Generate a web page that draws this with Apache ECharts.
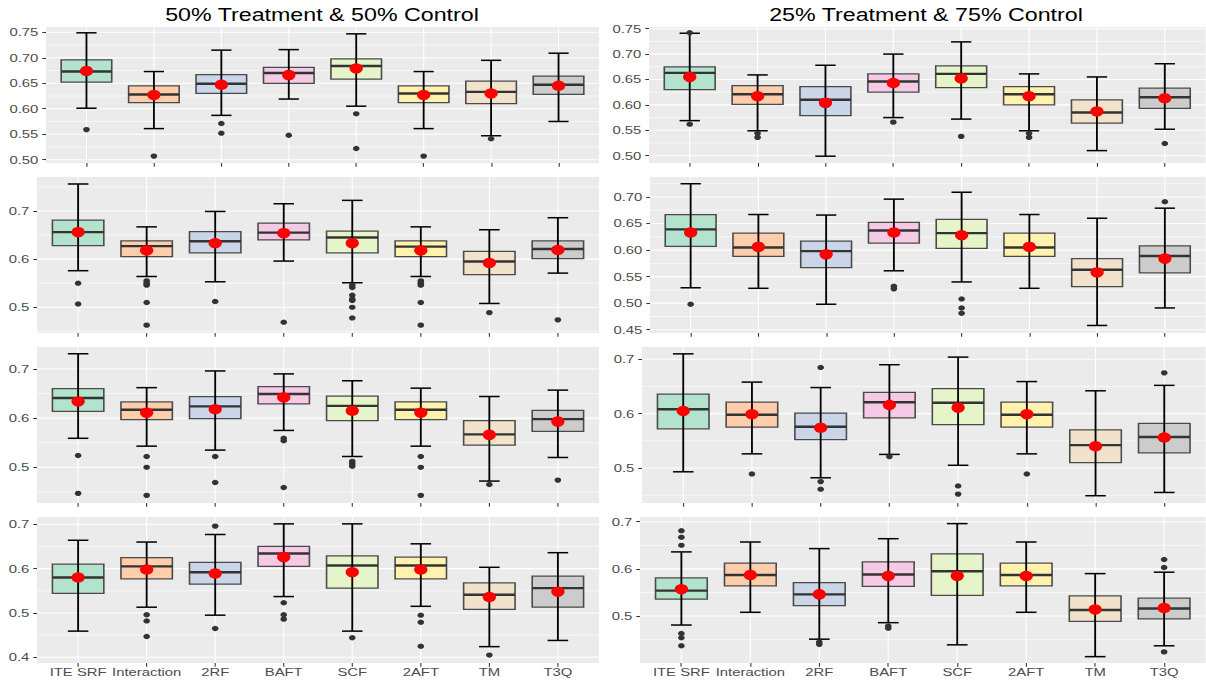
<!DOCTYPE html>
<html><head><meta charset="utf-8">
<script src="https://cdn.jsdelivr.net/npm/echarts@6/dist/echarts.min.js"></script>
<style>
html,body{margin:0;padding:0;background:#fff;overflow:hidden;}
#wrap{width:1206px;height:683px;overflow:hidden;}
#chart{width:950px;height:683px;transform:scaleX(1.269474);transform-origin:0 0;}
</style></head><body><div id="wrap"><div id="chart"></div></div>
<script>
// ---------------- data ----------------
const categories = ['ITE SRF','Interaction','2RF','BAFT','SCF','2AFT','TM','T3Q'];
const titles = ['50% Treatment & 50% Control','25% Treatment & 75% Control'];

// each box: [lower whisker, Q1, median, Q3, upper whisker]
const p1_stats = [[0.601,0.652,0.673,0.696,0.749],[0.561,0.612,0.628,0.645,0.673],[0.587,0.630,0.649,0.667,0.715],[0.619,0.650,0.670,0.681,0.716],[0.605,0.658,0.684,0.698,0.747],[0.561,0.612,0.630,0.645,0.673],[0.547,0.610,0.633,0.654,0.695],[0.575,0.628,0.647,0.664,0.709]];
const p1_means = [0.674,0.627,0.647,0.666,0.679,0.627,0.630,0.645];
const p1_outliers = [[0,0.559],[1,0.507],[2,0.571],[2,0.552],[3,0.548],[4,0.590],[4,0.522],[5,0.507],[6,0.541]];

const p2_stats = [[0.569,0.630,0.663,0.675,0.741],[0.549,0.601,0.621,0.638,0.659],[0.499,0.579,0.610,0.636,0.678],[0.575,0.625,0.646,0.661,0.700],[0.572,0.634,0.661,0.677,0.724],[0.549,0.600,0.621,0.636,0.661],[0.510,0.564,0.585,0.610,0.655],[0.552,0.593,0.615,0.633,0.681]];
const p2_means = [0.655,0.617,0.604,0.643,0.652,0.617,0.587,0.613];
const p2_outliers = [[0,0.742],[0,0.562],[1,0.544],[1,0.536],[3,0.566],[4,0.538],[5,0.544],[5,0.536],[7,0.524]];

const p3_stats = [[0.576,0.628,0.656,0.681,0.756],[0.564,0.605,0.627,0.638,0.667],[0.553,0.613,0.637,0.657,0.699],[0.596,0.640,0.655,0.675,0.715],[0.551,0.613,0.645,0.658,0.722],[0.564,0.605,0.626,0.638,0.667],[0.508,0.568,0.595,0.616,0.661],[0.571,0.601,0.621,0.638,0.686]];
const p3_means = [0.656,0.618,0.633,0.654,0.633,0.618,0.592,0.619];
const p3_outliers = [[0,0.550],[0,0.507],[1,0.555],[1,0.550],[1,0.546],[1,0.510],[1,0.463],[2,0.512],[3,0.469],[4,0.546],[4,0.541],[4,0.525],[4,0.517],[4,0.514],[4,0.500],[4,0.478],[5,0.555],[5,0.550],[5,0.546],[5,0.510],[5,0.463],[6,0.489],[7,0.474]];

const p4_stats = [[0.529,0.607,0.639,0.667,0.725],[0.528,0.588,0.605,0.632,0.667],[0.498,0.567,0.598,0.617,0.666],[0.561,0.613,0.637,0.652,0.696],[0.540,0.603,0.632,0.658,0.709],[0.528,0.588,0.605,0.632,0.667],[0.458,0.531,0.563,0.584,0.660],[0.491,0.557,0.589,0.608,0.679]];
const p4_means = [0.633,0.606,0.592,0.633,0.628,0.606,0.558,0.584];
const p4_outliers = [[0,0.498],[3,0.532],[3,0.527],[4,0.508],[4,0.491],[4,0.481],[7,0.691]];

const p5_stats = [[0.559,0.614,0.641,0.660,0.731],[0.543,0.597,0.617,0.633,0.662],[0.535,0.599,0.624,0.644,0.696],[0.575,0.629,0.649,0.664,0.690],[0.522,0.595,0.625,0.645,0.676],[0.543,0.597,0.617,0.633,0.661],[0.472,0.545,0.567,0.595,0.644],[0.520,0.573,0.598,0.616,0.657]];
const p5_means = [0.634,0.611,0.618,0.642,0.615,0.611,0.566,0.593];
const p5_outliers = [[0,0.524],[0,0.447],[1,0.522],[1,0.500],[1,0.443],[2,0.522],[2,0.469],[3,0.559],[3,0.554],[3,0.459],[4,0.512],[4,0.507],[4,0.502],[5,0.522],[5,0.500],[5,0.443],[6,0.465],[7,0.474]];

const p6_stats = [[0.493,0.572,0.608,0.636,0.710],[0.526,0.575,0.598,0.621,0.658],[0.482,0.552,0.576,0.601,0.648],[0.525,0.592,0.621,0.639,0.690],[0.505,0.580,0.620,0.646,0.704],[0.526,0.575,0.598,0.621,0.659],[0.449,0.510,0.542,0.570,0.642],[0.455,0.528,0.557,0.582,0.652]];
const p6_means = [0.605,0.599,0.574,0.616,0.611,0.599,0.540,0.556];
const p6_outliers = [[1,0.489],[2,0.685],[2,0.475],[2,0.461],[3,0.521],[4,0.467],[4,0.452],[5,0.489],[7,0.675]];

const p7_stats = [[0.459,0.544,0.580,0.610,0.664],[0.513,0.577,0.605,0.625,0.660],[0.495,0.565,0.592,0.614,0.677],[0.537,0.605,0.634,0.650,0.701],[0.459,0.556,0.607,0.629,0.701],[0.515,0.577,0.607,0.626,0.656],[0.424,0.508,0.541,0.568,0.603],[0.438,0.513,0.556,0.583,0.636]];
const p7_means = [0.580,0.598,0.589,0.626,0.592,0.598,0.536,0.548];
const p7_outliers = [[1,0.496],[1,0.482],[1,0.447],[2,0.696],[2,0.465],[3,0.523],[3,0.496],[3,0.486],[4,0.444],[5,0.495],[5,0.479],[5,0.425],[6,0.405]];

const p8_stats = [[0.481,0.536,0.554,0.581,0.636],[0.508,0.564,0.587,0.612,0.657],[0.451,0.522,0.546,0.571,0.643],[0.486,0.563,0.588,0.615,0.664],[0.439,0.544,0.595,0.632,0.696],[0.508,0.564,0.587,0.612,0.657],[0.414,0.489,0.513,0.543,0.590],[0.437,0.494,0.516,0.538,0.593]];
const p8_means = [0.557,0.587,0.546,0.585,0.585,0.585,0.514,0.517];
const p8_outliers = [[0,0.681],[0,0.667],[0,0.650],[0,0.463],[0,0.454],[0,0.437],[2,0.445],[2,0.440],[3,0.479],[3,0.474],[7,0.620],[7,0.603],[7,0.424]];

// y tick labels per panel
const p1_yticks = [0.50,0.55,0.60,0.65,0.70,0.75];
const p2_yticks = [0.50,0.55,0.60,0.65,0.70,0.75];
const p3_yticks = [0.5,0.6,0.7];
const p4_yticks = [0.45,0.50,0.55,0.60,0.65,0.70];
const p5_yticks = [0.5,0.6,0.7];
const p6_yticks = [0.5,0.6,0.7];
const p7_yticks = [0.4,0.5,0.6,0.7];
const p8_yticks = [0.5,0.6,0.7];
// visible y range of each panel
const yRanges = [[0.4935,0.7604],[0.4856,0.7533],[0.4467,0.7705],[0.4438,0.7377],[0.4274,0.7447],[0.4356,0.7226],[0.3871,0.7165],[0.4005,0.7100]];

// ---------------- styling / layout ----------------
const palette = ['#B3E2CD','#FDCDAC','#CBD5E8','#F4CAE4','#E6F5C9','#FFF2AE','#F1E2CC','#CCCCCC'];
const S = 1206/950;
const FONT = '"Liberation Sans", Arial, Helvetica, sans-serif';
const rowTop = [27,177,347,517], rowH = [136,156,156,146];
const panelLeft = [46,649,37,650,37,642,37,640];   // original-pixel coordinates
const panelRight = [599,1205.5];

const panels = [
  {stats:p1_stats, means:p1_means, out:p1_outliers, ticks:p1_yticks},
  {stats:p2_stats, means:p2_means, out:p2_outliers, ticks:p2_yticks},
  {stats:p3_stats, means:p3_means, out:p3_outliers, ticks:p3_yticks},
  {stats:p4_stats, means:p4_means, out:p4_outliers, ticks:p4_yticks},
  {stats:p5_stats, means:p5_means, out:p5_outliers, ticks:p5_yticks},
  {stats:p6_stats, means:p6_means, out:p6_outliers, ticks:p6_yticks},
  {stats:p7_stats, means:p7_means, out:p7_outliers, ticks:p7_yticks},
  {stats:p8_stats, means:p8_means, out:p8_outliers, ticks:p8_yticks}
];

const catIdx = categories.map((c,i)=>i);

function renderHLine(params, api){
  const cs = params.coordSys;
  const y = api.coord([0, api.value(1)])[1];
  return {type:'line', shape:{x1:cs.x, y1:y, x2:cs.x+cs.width, y2:y},
    style:{stroke:'#FFFFFF', lineWidth: api.value(2) ? 1.1 : 0.55}};
}
function renderVLine(params, api){
  const cs = params.coordSys;
  const x = api.coord([api.value(0), 0.5])[0];
  return {type:'line', shape:{x1:x, y1:cs.y, x2:x, y2:cs.y+cs.height},
    style:{stroke:'#FFFFFF', lineWidth:0.85}};
}
function renderBox(params, api){
  const i = api.value(0);
  const lo = api.coord([i, api.value(1)]);
  const q1 = api.coord([i, api.value(2)]);
  const md = api.coord([i, api.value(3)]);
  const q3 = api.coord([i, api.value(4)]);
  const hi = api.coord([i, api.value(5)]);
  const bw = api.size([0.75, 0])[0];
  const cw = api.size([0.3, 0])[0];
  const cx = lo[0];
  return {type:'group', children:[
    {type:'rect', shape:{x:cx-bw/2, y:q3[1], width:bw, height:q1[1]-q3[1]},
      style:{fill:palette[i], stroke:'#4A4A4A', lineWidth:1.25}},
    {type:'line', shape:{x1:cx-bw/2, y1:md[1], x2:cx+bw/2, y2:md[1]}, style:{stroke:'#333333', lineWidth:2.4}},
    {type:'line', shape:{x1:cx, y1:hi[1], x2:cx, y2:lo[1]}, style:{stroke:'#000000', lineWidth:1.45}},
    {type:'line', shape:{x1:cx-cw/2, y1:hi[1], x2:cx+cw/2, y2:hi[1]}, style:{stroke:'#000000', lineWidth:1.5}},
    {type:'line', shape:{x1:cx-cw/2, y1:lo[1], x2:cx+cw/2, y2:lo[1]}, style:{stroke:'#000000', lineWidth:1.5}}
  ]};
}

const grids = [], xAxes = [], yAxes = [], series = [];
panels.forEach((p, k) => {
  const row = Math.floor(k/2), col = k % 2;
  const L = panelLeft[k]/S, R = panelRight[col]/S;
  grids.push({left:L, top:rowTop[row], width:R-L, height:rowH[row], show:true,
    backgroundColor:'#EBEBEB', borderWidth:0, containLabel:false});
  const dec = (p.ticks[1]-p.ticks[0]) < 0.09 ? 2 : 1;
  xAxes.push({type:'value', gridIndex:k, min:-0.6, max:7.6, position:'bottom',
    axisLine:{show:false, onZero:false}, splitLine:{show:false},
    axisTick:{show:true, customValues:catIdx, length:3.7, lineStyle:{color:'#333333', width:0.85}},
    axisLabel:{show: row===3, customValues:catIdx, formatter:v=>categories[Math.round(v)],
      color:'#4D4D4D', fontSize:11.7, fontFamily:FONT, margin:9.5, verticalAlign:'middle'}});
  yAxes.push({type:'value', gridIndex:k, min:yRanges[k][0], max:yRanges[k][1], position:'left',
    axisLine:{show:false, onZero:false}, splitLine:{show:false},
    axisTick:{show:true, customValues:p.ticks, length:2.9, lineStyle:{color:'#333333', width:1.07}},
    axisLabel:{customValues:p.ticks, formatter:v=>Number(v).toFixed(dec),
      color:'#4D4D4D', fontSize:11.7, fontFamily:FONT, margin:6}});
  // grid lines (major at tick labels, minor half-way)
  const step = p.ticks[1]-p.ticks[0];
  const hl = p.ticks.map(v=>[0, v, 1]);
  for (let j=-1; j<p.ticks.length; j++){
    const m = +(p.ticks[0] + (j+0.5)*step).toFixed(4);
    if (m > yRanges[k][0] && m < yRanges[k][1]) hl.push([0, m, 0]);
  }
  series.push({type:'custom', xAxisIndex:k, yAxisIndex:k, z:1, silent:true,
    renderItem:renderHLine, data:hl, encode:{x:0, y:1}});
  series.push({type:'custom', xAxisIndex:k, yAxisIndex:k, z:1, silent:true,
    renderItem:renderVLine, data:catIdx.map(i=>[i, 0.5]), encode:{x:0, y:1}});
  series.push({type:'custom', xAxisIndex:k, yAxisIndex:k, z:2,
    renderItem:renderBox, data:p.stats.map((s,i)=>[i].concat(s)), encode:{x:0, y:[1,2,3,4,5]}});
  series.push({type:'scatter', xAxisIndex:k, yAxisIndex:k, z:3, symbol:'circle', symbolSize:5.3,
    itemStyle:{color:'#333333', opacity:1}, data:p.out});
  series.push({type:'scatter', xAxisIndex:k, yAxisIndex:k, z:4, symbol:'circle', symbolSize:10.5,
    itemStyle:{color:'#FF0000', opacity:1}, data:p.means.map((m,i)=>[i, m])});
});

const chart = echarts.init(document.getElementById('chart'), null, {renderer:'svg'});
chart.setOption({
  animation:false,
  backgroundColor:'#FFFFFF',
  graphic:[
    {type:'text', x:322/S, y:14, style:{text:titles[0], fill:'#000000', fontSize:18.3, fontFamily:FONT, textAlign:'center', textVerticalAlign:'middle'}},
    {type:'text', x:926/S, y:14, style:{text:titles[1], fill:'#000000', fontSize:18.3, fontFamily:FONT, textAlign:'center', textVerticalAlign:'middle'}}
  ],
  grid:grids, xAxis:xAxes, yAxis:yAxes, series:series
});
</script></body></html>
